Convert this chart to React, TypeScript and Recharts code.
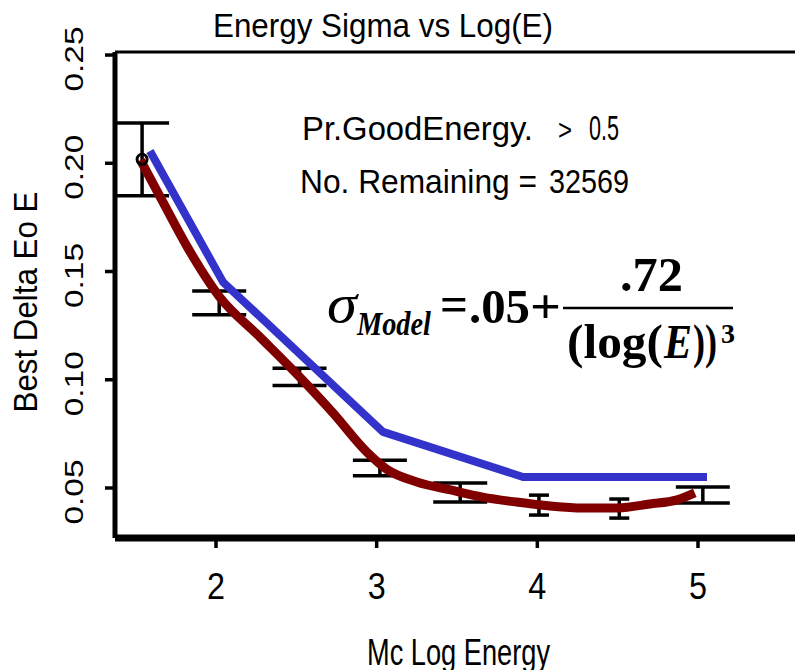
import React from 'react';
import { ComposedChart, Line, Scatter, ErrorBar, XAxis, YAxis, ReferenceLine } from 'recharts';

// axis ranges
const X_MIN = 1.3714;
const X_MAX = 5.6037;
const Y_MIN = 0.0269;
const Y_MAX = 0.2514;

const xTicks = [2, 3, 4, 5];
const xTickLabels = ['2', '3', '4', '5'];
const yTicks = [0.05, 0.1, 0.15, 0.2, 0.25];
const yTickLabels = ['0.05', '0.10', '0.15', '0.20', '0.25'];

// dark red fitted curve
const fitX = [1.53, 1.67, 1.82, 2.02, 2.27, 2.52, 2.73, 2.94, 3.06, 3.25, 3.46, 3.66, 3.87, 4.08, 4.28, 4.5, 4.7, 4.87, 4.98];
const fitY = [0.2015, 0.182, 0.1615, 0.1385, 0.12, 0.1013, 0.0845, 0.0665, 0.0588, 0.0528, 0.0491, 0.0458, 0.0435, 0.0417, 0.0408, 0.0408, 0.0426, 0.0445, 0.0477];

// blue model line
const modelX = [1.589, 2.044, 3.039, 3.911, 5.056];
const modelY = [0.2057, 0.1451, 0.0759, 0.0551, 0.0551];

// binned points with error bars
const binX = [1.54, 2.02, 2.52, 3.02, 3.52, 4.01, 4.51, 5.03];
const binMean = [0.2018, 0.1355, 0.1013, 0.0592, 0.0479, 0.0421, 0.0405, 0.0468];
const binErr = [0.0168, 0.0055, 0.004, 0.0036, 0.0044, 0.0046, 0.0044, 0.0037];
const binNarrow = [false, false, false, false, false, true, true, false];
const binMarker = [true, false, false, false, false, false, false, false];

const fitData = fitX.map((x, i) => ({ x, y: fitY[i] }));
const modelData = modelX.map((x, i) => ({ x, y: modelY[i] }));
const allBins = binX.map((x, i) => ({ x, y: binMean[i], err: binErr[i], n: binNarrow[i], m: binMarker[i] }));
const wideBins = allBins.filter(d => !d.n);
const narrowBins = allBins.filter(d => d.n);

const SANS = '"Liberation Sans", Arial, sans-serif';
const SERIF = '"Liberation Serif", "Times New Roman", serif';

const XTick = (props: any) => {
  const { x, y, payload } = props;
  const idx = xTicks.indexOf(payload.value);
  return (
    <text x={x} y={y} textAnchor="middle" fontFamily={SANS} fontSize={36} fill="#000" textLength={18} lengthAdjust="spacingAndGlyphs">
      {idx >= 0 ? xTickLabels[idx] : payload.value}
    </text>
  );
};

const YTick = (props: any) => {
  const { x, y, payload } = props;
  const idx = yTicks.findIndex(t => Math.abs(t - payload.value) < 1e-9);
  return (
    <text transform={`translate(${x},${y + 4}) rotate(-90)`} textAnchor="middle" fontFamily={SANS} fontSize={25} fill="#000" textLength={65} lengthAdjust="spacingAndGlyphs">
      {idx >= 0 ? yTickLabels[idx] : payload.value}
    </text>
  );
};

const Dot = (props: any) => {
  const { cx, cy, payload } = props;
  if (!payload || !payload.m) return <g />;
  return <circle cx={cx} cy={cy} r={5} fill="none" stroke="#000" strokeWidth={3} />;
};

export default function App() {
  return (
    <div style={{ position: 'absolute', left: 0, top: 0, width: 795, height: 670, background: '#fff', overflow: 'hidden' }}>
      <ComposedChart width={795} height={670} margin={{ top: 52, right: 0, bottom: 0, left: 0 }}>
        <XAxis
          type="number"
          dataKey="x"
          domain={[X_MIN, X_MAX]}
          ticks={xTicks}
          allowDataOverflow
          height={132}
          axisLine={{ stroke: '#000', strokeWidth: 7 }}
          tickLine={{ stroke: '#000', strokeWidth: 3.5 }}
          tickSize={10}
          tickMargin={51}
          tick={<XTick />}
        />
        <YAxis
          type="number"
          dataKey="y"
          domain={[Y_MIN, Y_MAX]}
          ticks={yTicks}
          allowDataOverflow
          width={115}
          axisLine={{ stroke: '#000', strokeWidth: 5 }}
          tickLine={{ stroke: '#000', strokeWidth: 3.5 }}
          tickSize={10}
          tickMargin={22}
          tick={<YTick />}
        />
        <ReferenceLine y={Y_MAX} stroke="#000" strokeWidth={3} />
        <Scatter data={wideBins} dataKey="y" shape={<Dot />} isAnimationActive={false}>
          <ErrorBar dataKey="err" direction="y" width={27} stroke="#000" strokeWidth={3.5} isAnimationActive={false} />
        </Scatter>
        <Scatter data={narrowBins} dataKey="y" shape={<Dot />} isAnimationActive={false}>
          <ErrorBar dataKey="err" direction="y" width={10} stroke="#000" strokeWidth={3.5} isAnimationActive={false} />
        </Scatter>
        <Line data={fitData} dataKey="y" type="monotone" stroke="#800000" strokeWidth={9} dot={false} isAnimationActive={false} strokeLinecap="butt" />
        <Line data={modelData} dataKey="y" type="linear" stroke="#3333CC" strokeWidth={8} dot={false} isAnimationActive={false} strokeLinecap="butt" strokeLinejoin="round" />
      </ComposedChart>
      <svg width={795} height={670} style={{ position: 'absolute', left: 0, top: 0, pointerEvents: 'none' }}>
        <text x={213} y={37} fontFamily={SANS} fontSize={34} fill="#000" textLength={340} lengthAdjust="spacingAndGlyphs">Energy Sigma vs Log(E)</text>
        <text transform="translate(37,302) rotate(-90)" textAnchor="middle" fontFamily={SANS} fontSize={33} fill="#000" textLength={221} lengthAdjust="spacingAndGlyphs">Best Delta Eo E</text>
        <text x={367} y={665} fontFamily={SANS} fontSize={37} fill="#000" textLength={183} lengthAdjust="spacingAndGlyphs">Mc Log Energy</text>

        <text x={302} y={140} fontFamily={SANS} fontSize={34} fill="#000" textLength={231} lengthAdjust="spacingAndGlyphs">Pr.GoodEnergy.</text>
        <text x={558} y={140} fontFamily={SANS} fontSize={30} fill="#000" textLength={14} lengthAdjust="spacingAndGlyphs">&gt;</text>
        <text x={589} y={140} fontFamily={SANS} fontSize={35} fill="#000" textLength={30} lengthAdjust="spacingAndGlyphs">0.5</text>
        <text x={300} y={193} fontFamily={SANS} fontSize={34} fill="#000" textLength={237} lengthAdjust="spacingAndGlyphs">No. Remaining =</text>
        <text x={549} y={193} fontFamily={SANS} fontSize={34} fill="#000" textLength={80} lengthAdjust="spacingAndGlyphs">32569</text>

        <text x={327} y={322} fontFamily={SERIF} fontSize={54} fontStyle="italic" fill="#000" textLength={30} lengthAdjust="spacingAndGlyphs">σ</text>
        <text x={357} y={335} fontFamily={SERIF} fontSize={34} fontStyle="italic" fontWeight="bold" fill="#000" textLength={74} lengthAdjust="spacingAndGlyphs">Model</text>
        <text x={440} y={321} fontFamily={SERIF} fontSize={50} fontWeight="bold" fill="#000" textLength={28} lengthAdjust="spacingAndGlyphs">=</text>
        <text x={469} y={323} fontFamily={SERIF} fontSize={49} fontWeight="bold" fill="#000" textLength={61} lengthAdjust="spacingAndGlyphs">.05</text>
        <text x={530} y={323} fontFamily={SERIF} fontSize={49} fontWeight="bold" fill="#000" textLength={31} lengthAdjust="spacingAndGlyphs">+</text>
        <line x1={563} x2={733} y1={308} y2={308} stroke="#000" strokeWidth={2.5} />
        <text x={620} y={291} fontFamily={SERIF} fontSize={48} fontWeight="bold" fill="#000" textLength={63} lengthAdjust="spacingAndGlyphs">.72</text>
        <text x={567} y={358} fontFamily={SERIF} fontSize={48} fontWeight="bold" fill="#000" textLength={96} lengthAdjust="spacingAndGlyphs">(log(</text>
        <text x={664} y={358} fontFamily={SERIF} fontSize={48} fontStyle="italic" fontWeight="bold" fill="#000" textLength={28} lengthAdjust="spacingAndGlyphs">E</text>
        <text x={693} y={358} fontFamily={SERIF} fontSize={48} fontWeight="bold" fill="#000" textLength={24} lengthAdjust="spacingAndGlyphs">))</text>
        <text x={721} y={343} fontFamily={SERIF} fontSize={28} fontWeight="bold" fill="#000">3</text>
      </svg>
    </div>
  );
}
